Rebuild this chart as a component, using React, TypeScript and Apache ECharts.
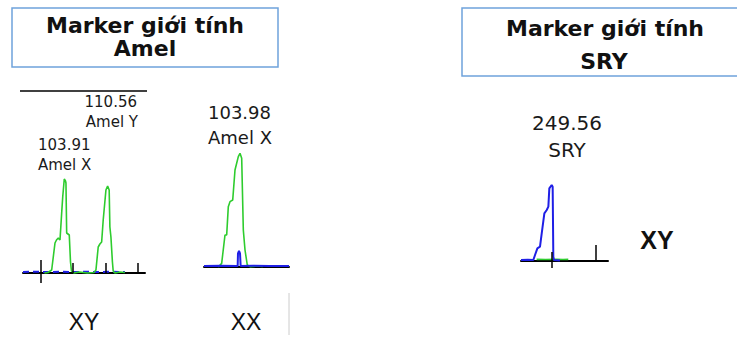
import React, { useEffect, useRef } from "react";
import * as echarts from "echarts";

// ---------- data ----------
// Amel, sample XY (x: size in bp, y: RFU)
const amelXYGreen: [number, number][] = [
  [100.6, 0], [101.15, 10], [101.72, 60], [102.23, 600], [102.46, 660], [102.74, 700],
  [103.0, 660], [103.26, 1200], [103.42, 1520], [103.66, 1880], [103.85, 1840],
  [103.92, 1800], [104.03, 800], [104.43, 760], [104.62, 220], [104.77, 40],
  [105.15, 0], [106.0, 20], [107.2, 0], [108.23, 10], [108.54, 60], [108.89, 520],
  [109.15, 580], [109.42, 620], [109.66, 1060], [110.08, 1660], [110.34, 1740],
  [110.58, 1660], [110.69, 920], [110.85, 720], [111.08, 220], [111.2, 40],
  [111.46, 0], [112.2, 20], [113.0, 10],
];
const amelXYBlue: [number, number][] = [
  [97.3, 20], [99.0, 25], [101.0, 20], [103.0, 25], [105.0, 20], [107.0, 25],
  [109.0, 20], [111.0, 25], [113.0, 20],
];
const amelXYTicks: number[] = [100, 105, 110, 115];

// Amel, sample XX
const amelXXGreen: [number, number][] = [
  [100.64, 0], [101.16, 73], [101.67, 640], [101.93, 640], [102.18, 1207],
  [102.44, 1307], [102.86, 1340], [103.21, 1940], [103.72, 2207], [103.98, 2273],
  [104.24, 2173], [104.49, 740], [104.75, 340], [105.1, 40], [105.52, 7],
  [106.6, 20], [107.5, 10],
];
const amelXXBlue: [number, number][] = [
  [98.44, 20], [101.0, 25], [103.5, 20], [103.62, 20], [103.67, 273], [103.83, 320],
  [103.98, 273], [104.08, 20], [106.0, 25], [108.5, 20], [111.52, 20],
];

// SRY, sample XY
const sryBlue: [number, number][] = [
  [242.95, 20], [244.5, 25], [245.75, 20], [246.14, 120], [246.67, 253],
  [247.27, 287], [247.66, 553], [248.26, 953], [248.8, 1020], [249.17, 1087],
  [249.39, 1453], [249.93, 1520], [250.15, 1487], [250.3, 87], [250.45, 20],
  [251.8, 10],
];
const sryGreen: [number, number][] = [
  [246.5, 33], [248.5, 30], [251.0, 35], [252.5, 30], [253.7, 33],
];
const sryTicks: number[] = [250, 260];

// labels
const titleLine1 = "Marker giới tính";
const titleAmel = "Amel";
const titleSry = "SRY";
const amelXYLabels = [
  { size: "110.56", allele: "Amel Y" },
  { size: "103.91", allele: "Amel X" },
];
const amelXXLabel = { size: "103.98", allele: "Amel X" };
const sryLabel = { size: "249.56", allele: "SRY" };
const genotypes = ["XY", "XX", "XY"];

const GREEN = "#2ecc2e";
const BLUE = "#1f1fe6";

function tickSegments(ticks: number[], major: [number, number], minor: [number, number]) {
  return ticks.map((t, i) => {
    const r = i === 0 ? major : minor;
    return [{ coord: [t, r[0]] }, { coord: [t, r[1]] }];
  });
}

export default function App() {
  const ref = useRef<HTMLDivElement>(null);
  useEffect(() => {
    if (!ref.current) return;
    const chart = echarts.init(ref.current, undefined, { renderer: "svg" });

    const xAxisBase = (gridIndex: number, min: number, max: number) => ({
      type: "value" as const,
      gridIndex,
      min,
      max,
      axisLine: { show: true, onZero: true, lineStyle: { color: "#000", width: 2 } },
      axisTick: { show: false },
      axisLabel: { show: false },
      splitLine: { show: false },
    });
    const yAxisBase = (gridIndex: number, min: number, max: number) => ({
      type: "value" as const,
      gridIndex,
      min,
      max,
      show: false,
      splitLine: { show: false },
    });

    const lf = (size: number) => `${size}px 'DejaVu Sans'`;
    const titleFont = "bold 22px 'DejaVu Sans'";
    const tickLine = { color: "#000", width: 1.5, type: "solid" as const };
    const txt = (x: number, y: number, text: string, font: string, align: string, fill = "#1a1a1a") => ({
      type: "text", x, y,
      style: { text, font, fill, align, verticalAlign: "middle" },
    });

    chart.setOption({
      animation: false,
      backgroundColor: "#fff",
      grid: [
        { left: 23, top: 170, width: 122, height: 115 },
        { left: 204, top: 140, width: 85, height: 135 },
        { left: 521, top: 180, width: 87, height: 90 },
      ],
      xAxis: [
        xAxisBase(0, 97.3, 116.1),
        xAxisBase(1, 98.44, 111.52),
        xAxisBase(2, 242.95, 262.73),
      ],
      yAxis: [
        yAxisBase(0, -240, 2060),
        yAxisBase(1, -160, 2540),
        yAxisBase(2, -180, 1620),
      ],
      series: [
        {
          type: "line", xAxisIndex: 0, yAxisIndex: 0, data: amelXYBlue, showSymbol: false,
          lineStyle: { color: BLUE, width: 2, type: [6, 4] }, z: 3,
          markLine: {
            silent: true, symbol: ["none", "none"], label: { show: false },
            lineStyle: tickLine,
            data: tickSegments(amelXYTicks, [260, -200], [200, 0]),
          },
        },
        {
          type: "line", xAxisIndex: 0, yAxisIndex: 0, data: amelXYGreen, showSymbol: false,
          lineStyle: { color: GREEN, width: 1.6 }, z: 4,
        },
        {
          type: "line", xAxisIndex: 1, yAxisIndex: 1, data: amelXXGreen, showSymbol: false,
          lineStyle: { color: GREEN, width: 1.6 }, z: 3,
        },
        {
          type: "line", xAxisIndex: 1, yAxisIndex: 1, data: amelXXBlue, showSymbol: false,
          lineStyle: { color: BLUE, width: 2 }, z: 4,
        },
        {
          type: "line", xAxisIndex: 2, yAxisIndex: 2, data: sryGreen, showSymbol: false,
          lineStyle: { color: GREEN, width: 1.6 }, z: 3,
        },
        {
          type: "line", xAxisIndex: 2, yAxisIndex: 2, data: sryBlue, showSymbol: false,
          lineStyle: { color: BLUE, width: 2 }, z: 4,
          markLine: {
            silent: true, symbol: ["none", "none"], label: { show: false },
            lineStyle: tickLine,
            data: tickSegments(sryTicks, [180, -140], [320, 0]),
          },
        },
      ],
      graphic: [
        // title boxes
        {
          type: "rect", shape: { x: 12, y: 8, width: 266, height: 59 },
          style: { fill: "#fff", stroke: "#6fa3dc", lineWidth: 1.5 },
        },
        txt(145, 25, titleLine1, titleFont, "center", "#111"),
        txt(145, 48.5, titleAmel, titleFont, "center", "#111"),
        {
          type: "rect", shape: { x: 462, y: 8, width: 290, height: 68 },
          style: { fill: "#fff", stroke: "#6fa3dc", lineWidth: 1.5 },
        },
        txt(605, 28.5, titleLine1, titleFont, "center", "#111"),
        txt(604, 61, titleSry, titleFont, "center", "#111"),
        // panel 1 top frame line
        {
          type: "line", shape: { x1: 20, y1: 91, x2: 147, y2: 91 },
          style: { stroke: "#000", lineWidth: 1.5 },
        },
        // panel 1 labels
        txt(137, 102, amelXYLabels[0].size, lf(15), "right"),
        txt(138, 122, amelXYLabels[0].allele, lf(15), "right"),
        txt(38, 145, amelXYLabels[1].size, lf(15), "left"),
        txt(38, 165, amelXYLabels[1].allele, lf(15), "left"),
        // panel 2 labels
        txt(208, 112, amelXXLabel.size, lf(18), "left"),
        txt(208, 137, amelXXLabel.allele, lf(18), "left"),
        // panel 3 labels
        txt(567, 123, sryLabel.size, lf(20), "center"),
        txt(567, 150, sryLabel.allele, lf(20), "center"),
        // genotypes
        txt(84, 322, genotypes[0], "23px 'Liberation Sans'", "center", "#111"),
        txt(246, 322, genotypes[1], "23px 'Liberation Sans'", "center", "#111"),
        txt(657, 240, genotypes[2], "bold 25px 'Liberation Sans'", "center", "#111"),
        // faint separator
        {
          type: "line", shape: { x1: 289, y1: 293, x2: 289, y2: 335 },
          style: { stroke: "#ccc", lineWidth: 1 },
        },
      ],
    });
    return () => chart.dispose();
  }, []);
  return (
    <div
      ref={ref}
      style={{ position: "absolute", left: 0, top: 0, width: 737, height: 337 }}
    />
  );
}
